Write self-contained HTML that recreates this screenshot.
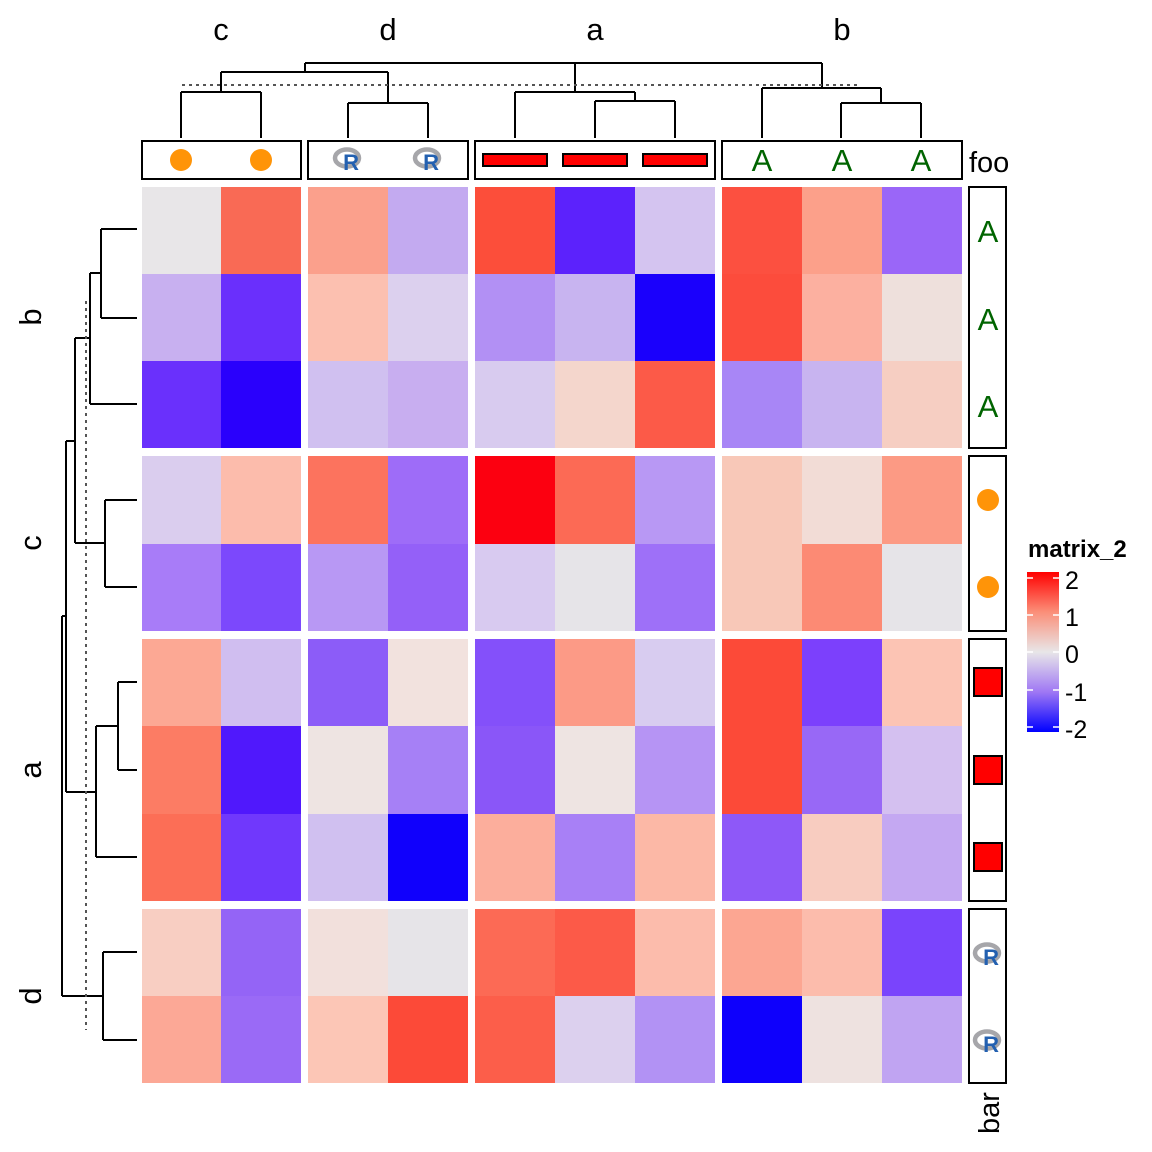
<!DOCTYPE html>
<html><head><meta charset="utf-8"><style>body{margin:0;background:#fff}svg{display:block}</style></head><body>
<svg width="1152" height="1152" viewBox="0 0 1152 1152" xmlns="http://www.w3.org/2000/svg" font-family="Liberation Sans, Arial, sans-serif">
<defs>
<linearGradient id="lg" x1="0" y1="0" x2="0" y2="1">
<stop offset="0" stop-color="#ff0000"/><stop offset="0.25" stop-color="#fb8f79"/><stop offset="0.5" stop-color="#e8e6e8"/><stop offset="0.75" stop-color="#9f77f4"/><stop offset="1" stop-color="#0000ff"/>
</linearGradient>
<g id="rl"><ellipse cx="-1" cy="-2" rx="12" ry="8.5" fill="none" stroke="#a6a6aa" stroke-width="4.5"/><text x="3" y="10" font-size="22" font-weight="bold" fill="#2360b0" text-anchor="middle">R</text></g>
</defs>
<g shape-rendering="crispEdges">
<rect x="142" y="187" width="80" height="87" fill="#e8e6e8"/><rect x="221" y="187" width="80" height="87" fill="#f96a55"/>
<rect x="308" y="187" width="80" height="87" fill="#fba08c"/><rect x="388" y="187" width="80" height="87" fill="#c3aaf0"/>
<rect x="475" y="187" width="80" height="87" fill="#fc4e3a"/><rect x="555" y="187" width="80" height="87" fill="#5c22fc"/><rect x="635" y="187" width="80" height="87" fill="#d4c4f0"/>
<rect x="722" y="187" width="80" height="87" fill="#fc5040"/><rect x="802" y="187" width="80" height="87" fill="#fca08a"/><rect x="882" y="187" width="80" height="87" fill="#9a66f8"/>
<rect x="142" y="274" width="80" height="87" fill="#c8b0f0"/><rect x="221" y="274" width="80" height="87" fill="#6a2ffc"/>
<rect x="308" y="274" width="80" height="87" fill="#fcc0b0"/><rect x="388" y="274" width="80" height="87" fill="#dcd0ee"/>
<rect x="475" y="274" width="80" height="87" fill="#b290f4"/><rect x="555" y="274" width="80" height="87" fill="#c8b4f0"/><rect x="635" y="274" width="80" height="87" fill="#1a00fc"/>
<rect x="722" y="274" width="80" height="87" fill="#fc4c3c"/><rect x="802" y="274" width="80" height="87" fill="#fcb0a0"/><rect x="882" y="274" width="80" height="87" fill="#eee0dc"/>
<rect x="142" y="361" width="80" height="87" fill="#6a30fc"/><rect x="221" y="361" width="80" height="87" fill="#2a00fc"/>
<rect x="308" y="361" width="80" height="87" fill="#d0c0f0"/><rect x="388" y="361" width="80" height="87" fill="#c8aef0"/>
<rect x="475" y="361" width="80" height="87" fill="#d8cbef"/><rect x="555" y="361" width="80" height="87" fill="#f4d6cc"/><rect x="635" y="361" width="80" height="87" fill="#fc5a48"/>
<rect x="722" y="361" width="80" height="87" fill="#a886f6"/><rect x="802" y="361" width="80" height="87" fill="#c8b4f0"/><rect x="882" y="361" width="80" height="87" fill="#f6cec2"/>
<rect x="142" y="456" width="80" height="88" fill="#dacdee"/><rect x="221" y="456" width="80" height="88" fill="#fcbcac"/>
<rect x="308" y="456" width="80" height="88" fill="#fc735e"/><rect x="388" y="456" width="80" height="88" fill="#9e6cf8"/>
<rect x="475" y="456" width="80" height="88" fill="#fc0010"/><rect x="555" y="456" width="80" height="88" fill="#fc6a55"/><rect x="635" y="456" width="80" height="88" fill="#b898f4"/>
<rect x="722" y="456" width="80" height="88" fill="#f8c8b8"/><rect x="802" y="456" width="80" height="88" fill="#f2dcd6"/><rect x="882" y="456" width="80" height="88" fill="#fc9a84"/>
<rect x="142" y="544" width="80" height="87" fill="#a87cf8"/><rect x="221" y="544" width="80" height="87" fill="#7c48fc"/>
<rect x="308" y="544" width="80" height="87" fill="#b898f4"/><rect x="388" y="544" width="80" height="87" fill="#9460f8"/>
<rect x="475" y="544" width="80" height="87" fill="#d8caf0"/><rect x="555" y="544" width="80" height="87" fill="#e6e4e8"/><rect x="635" y="544" width="80" height="87" fill="#9e70f8"/>
<rect x="722" y="544" width="80" height="87" fill="#f8c8b8"/><rect x="802" y="544" width="80" height="87" fill="#fc8a74"/><rect x="882" y="544" width="80" height="87" fill="#e6e4e8"/>
<rect x="142" y="639" width="80" height="87" fill="#fca894"/><rect x="221" y="639" width="80" height="87" fill="#d0bef0"/>
<rect x="308" y="639" width="80" height="87" fill="#8c5cf8"/><rect x="388" y="639" width="80" height="87" fill="#f2e2de"/>
<rect x="475" y="639" width="80" height="87" fill="#8450fa"/><rect x="555" y="639" width="80" height="87" fill="#fc9a86"/><rect x="635" y="639" width="80" height="87" fill="#d8ccf0"/>
<rect x="722" y="639" width="80" height="87" fill="#fc4a38"/><rect x="802" y="639" width="80" height="87" fill="#7c40fc"/><rect x="882" y="639" width="80" height="87" fill="#fcc4b4"/>
<rect x="142" y="726" width="80" height="88" fill="#fc7c64"/><rect x="221" y="726" width="80" height="88" fill="#5018fc"/>
<rect x="308" y="726" width="80" height="88" fill="#eee4e2"/><rect x="388" y="726" width="80" height="88" fill="#a680f6"/>
<rect x="475" y="726" width="80" height="88" fill="#8a56f8"/><rect x="555" y="726" width="80" height="88" fill="#eee4e2"/><rect x="635" y="726" width="80" height="88" fill="#b694f4"/>
<rect x="722" y="726" width="80" height="88" fill="#fc4a38"/><rect x="802" y="726" width="80" height="88" fill="#9868f6"/><rect x="882" y="726" width="80" height="88" fill="#d4c0f0"/>
<rect x="142" y="814" width="80" height="87" fill="#fc6e56"/><rect x="221" y="814" width="80" height="87" fill="#7038fc"/>
<rect x="308" y="814" width="80" height="87" fill="#d0c0f0"/><rect x="388" y="814" width="80" height="87" fill="#1000fc"/>
<rect x="475" y="814" width="80" height="87" fill="#fcae9c"/><rect x="555" y="814" width="80" height="87" fill="#a880f6"/><rect x="635" y="814" width="80" height="87" fill="#fcb8a6"/>
<rect x="722" y="814" width="80" height="87" fill="#8e58f8"/><rect x="802" y="814" width="80" height="87" fill="#f8ccc0"/><rect x="882" y="814" width="80" height="87" fill="#c4a8f2"/>
<rect x="142" y="909" width="80" height="87" fill="#f8cec2"/><rect x="221" y="909" width="80" height="87" fill="#9464f6"/>
<rect x="308" y="909" width="80" height="87" fill="#f2e0dc"/><rect x="388" y="909" width="80" height="87" fill="#e6e4e8"/>
<rect x="475" y="909" width="80" height="87" fill="#fc6a55"/><rect x="555" y="909" width="80" height="87" fill="#fc5a48"/><rect x="635" y="909" width="80" height="87" fill="#fcbcac"/>
<rect x="722" y="909" width="80" height="87" fill="#fca692"/><rect x="802" y="909" width="80" height="87" fill="#fcbcac"/><rect x="882" y="909" width="80" height="87" fill="#7a44fc"/>
<rect x="142" y="996" width="80" height="87" fill="#fca896"/><rect x="221" y="996" width="80" height="87" fill="#9a6af6"/>
<rect x="308" y="996" width="80" height="87" fill="#fcc6b6"/><rect x="388" y="996" width="80" height="87" fill="#fc4a38"/>
<rect x="475" y="996" width="80" height="87" fill="#fc5e4a"/><rect x="555" y="996" width="80" height="87" fill="#dcd0ee"/><rect x="635" y="996" width="80" height="87" fill="#b292f4"/>
<rect x="722" y="996" width="80" height="87" fill="#0e00fc"/><rect x="802" y="996" width="80" height="87" fill="#eee2e0"/><rect x="882" y="996" width="80" height="87" fill="#c0a4f2"/>
</g>
<g fill="none" stroke="#000" stroke-width="2">
<path d="M305 63V72M221 72H388M575 63H822M305 63H575M221 72V92M181 92H261M181 92V138M261 92V138M388 72V103M348 103H428M348 103V138M428 103V138M575 63V92M515 92H635M515 92V138M635 92V101M595 101H675M595 101V138M675 101V138M822 63V88M762 88H881M762 88V138M881 88V103M841 103H921M841 103V138M921 103V138"/>
<path d="M137 229H101M137 318H101M101 229V318M101 273H90M137 404H90M90 273V404M90 338H75M137 500H105M137 587H105M105 500V587M105 543H75M75 338V543M75 441H66M137 682H118M137 770H118M118 682V770M118 726H96M137 857H96M96 726V857M96 792H66M66 441V792M66 616H62M137 952H103M137 1040H103M103 952V1040M103 996H62M62 616V996"/>
</g>
<path d="M182 85H860M86 301V1030" stroke="#555" stroke-width="2" stroke-dasharray="3,4" fill="none"/>
<g fill="none" stroke="#000" stroke-width="2">
<rect x="142" y="141" width="159" height="38"/><rect x="308" y="141" width="160" height="38"/><rect x="475" y="141" width="240" height="38"/><rect x="722" y="141" width="240" height="38"/>
<rect x="969" y="187" width="37" height="261"/><rect x="969" y="456" width="37" height="175"/><rect x="969" y="639" width="37" height="262"/><rect x="969" y="909" width="37" height="174"/>
</g>
<circle cx="181" cy="160" r="11" fill="#ff9408"/><circle cx="261" cy="160" r="11" fill="#ff9408"/>
<use href="#rl" x="348" y="160"/><use href="#rl" x="428" y="160"/>
<g fill="#ff0000" stroke="#000" stroke-width="2"><rect x="483" y="154" width="64" height="12"/><rect x="563" y="154" width="64" height="12"/><rect x="643" y="154" width="64" height="12"/></g>
<g fill="#006400" font-size="31" text-anchor="middle"><text x="762" y="171">A</text><text x="842" y="171">A</text><text x="921" y="171">A</text>
<text x="988" y="242">A</text><text x="988" y="330">A</text><text x="988" y="417">A</text></g>
<circle cx="988" cy="500" r="11" fill="#ff9408"/><circle cx="988" cy="587" r="11" fill="#ff9408"/>
<g fill="#ff0000" stroke="#000" stroke-width="2"><rect x="974" y="668" width="28" height="28"/><rect x="974" y="756" width="28" height="28"/><rect x="974" y="843" width="28" height="28"/></g>
<use href="#rl" x="988" y="955"/><use href="#rl" x="988" y="1042"/>
<text x="969" y="172" font-size="29">foo</text>
<text transform="translate(999,1113) rotate(-90)" font-size="29" text-anchor="middle">bar</text>
<g font-size="31" text-anchor="middle"><text x="221" y="40">c</text><text x="388" y="40">d</text><text x="595" y="40">a</text><text x="842" y="40">b</text>
<text transform="translate(41,317) rotate(-90)">b</text><text transform="translate(41,543) rotate(-90)">c</text><text transform="translate(41,770) rotate(-90)">a</text><text transform="translate(41,996) rotate(-90)">d</text></g>
<text x="1028" y="557" font-size="24" font-weight="bold">matrix_2</text>
<rect x="1027" y="572" width="32" height="160" fill="url(#lg)"/>
<g stroke="#fff" stroke-width="1.5"><path d="M1027 578h6M1053 578h6M1027 615h6M1053 615h6M1027 652h6M1053 652h6M1027 690h6M1053 690h6M1027 727h6M1053 727h6"/></g>
<g font-size="25"><text x="1065" y="589">2</text><text x="1065" y="626">1</text><text x="1065" y="663">0</text><text x="1065" y="701">-1</text><text x="1065" y="738">-2</text></g>
</svg>
</body></html>
